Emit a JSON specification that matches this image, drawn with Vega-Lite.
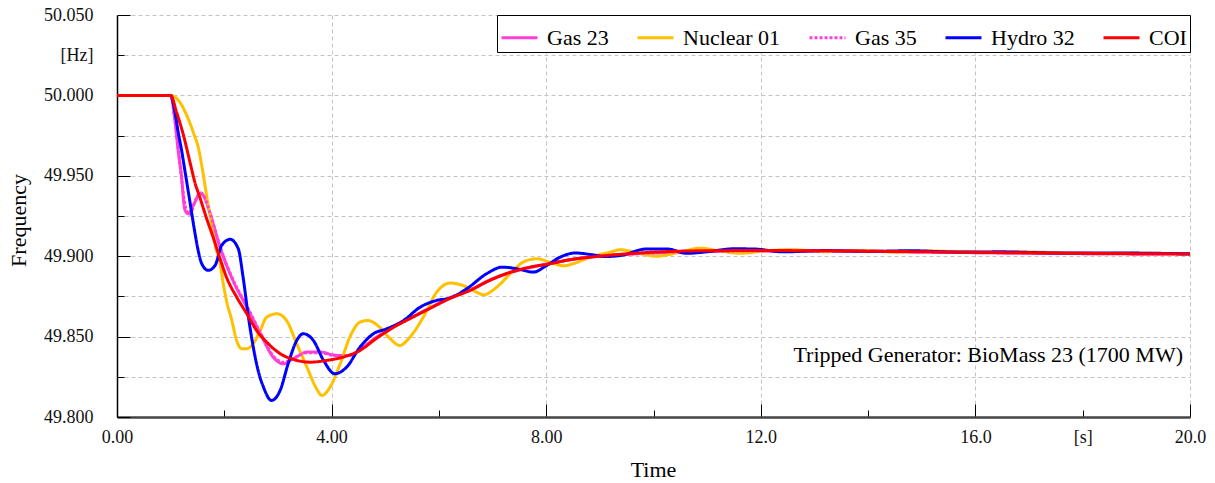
{
  "$schema": "https://vega.github.io/schema/vega-lite/v6.json",
  "width": 1073,
  "height": 402,
  "autosize": "none",
  "padding": {"left": 117, "top": 15, "right": 25, "bottom": 66},
  "background": "white",
  "config": {
    "font": "Liberation Serif",
    "view": {"stroke": null},
    "text": {"font": "Liberation Serif"}
  },
  "encoding": {
    "x": {
      "field": "t", "type": "quantitative",
      "scale": {"domain": [0, 20], "nice": false, "zero": false},
      "axis": {
        "title": "Time", "titleFont": "Liberation Serif", "titleFontSize": 22, "titleFontWeight": "normal", "titleColor": "#000",
        "titleX": 536, "titleY": 59, "titleAlign": "center", "titleBaseline": "alphabetic",
        "values": [0, 2, 4, 6, 8, 10, 12, 14, 16, 18, 20],
        "labelExpr": "datum.value == 18 ? '[s]' : (datum.value % 4 == 0 ? (datum.value < 10 ? format(datum.value, '.2f') : format(datum.value, '.1f')) : '')",
        "labelFont": "Liberation Serif", "labelFontSize": 18, "labelColor": "#111",
        "labelBaseline": "middle",
        "labelPadding": {"condition": {"test": "datum.value % 4 == 0", "value": 33}, "value": 27},
        "labelFlush": false, "labelOverlap": false, "labelBound": false,
        "tickSize": {"condition": {"test": "datum.value % 4 == 0", "value": -13}, "value": -7},
        "tickColor": "#000", "tickWidth": 1,
        "domainColor": "#444", "domainWidth": 2.5,
        "grid": true, "gridColor": "#c4c4c4", "gridDash": [4, 3], "gridWidth": 1,
        "gridOpacity": {"condition": {"test": "datum.value % 4 == 0 && datum.value > 0", "value": 1}, "value": 0}
      }
    },
    "y": {
      "field": "f", "type": "quantitative",
      "scale": {"domain": [49.8, 50.05], "nice": false, "zero": false},
      "axis": {
        "title": "Frequency", "titleFont": "Liberation Serif", "titleFontSize": 22, "titleFontWeight": "normal", "titleColor": "#000",
        "titleX": -99, "titleY": 205, "titleAngle": -90, "titleAlign": "center", "titleBaseline": "middle",
        "values": [49.8, 49.825, 49.85, 49.875, 49.9, 49.925, 49.95, 49.975, 50, 50.025, 50.05],
        "labelExpr": "abs(datum.value - 50.025) < 0.001 ? '[Hz]' : (abs(round(datum.value * 20) - datum.value * 20) < 0.01 ? format(datum.value, '.3f') : '')",
        "labelFont": "Liberation Serif", "labelFontSize": 18, "labelColor": "#111",
        "labelPadding": {"condition": {"test": "abs(round(datum.value * 20) - datum.value * 20) < 0.01", "value": 37}, "value": 31},
        "labelFlush": false, "labelOverlap": false, "labelBound": false,
        "tickSize": {"condition": {"test": "abs(round(datum.value * 20) - datum.value * 20) < 0.01", "value": -13}, "value": -7},
        "tickColor": "#000", "tickWidth": 1,
        "domainColor": "#000", "domainWidth": 1.5,
        "grid": true, "gridColor": "#c4c4c4", "gridDash": [4, 3], "gridWidth": 1
      }
    }
  },
  "layer": [
    {
      "data": {"values": [
        {"s": "Gas 23", "t": 0, "f": 50.0},
        {"s": "Gas 23", "t": 1.0, "f": 50.0},
        {"s": "Gas 23", "t": 1.08, "f": 49.9845},
        {"s": "Gas 23", "t": 1.14, "f": 49.9658},
        {"s": "Gas 23", "t": 1.21, "f": 49.9471},
        {"s": "Gas 23", "t": 1.24, "f": 49.9347},
        {"s": "Gas 23", "t": 1.27, "f": 49.9285},
        {"s": "Gas 23", "t": 1.33, "f": 49.9264},
        {"s": "Gas 23", "t": 1.42, "f": 49.9316},
        {"s": "Gas 23", "t": 1.55, "f": 49.9389},
        {"s": "Gas 23", "t": 1.61, "f": 49.9378},
        {"s": "Gas 23", "t": 1.73, "f": 49.9272},
        {"s": "Gas 23", "t": 1.92, "f": 49.9057},
        {"s": "Gas 23", "t": 2.16, "f": 49.885},
        {"s": "Gas 23", "t": 2.42, "f": 49.8683},
        {"s": "Gas 23", "t": 2.67, "f": 49.852},
        {"s": "Gas 23", "t": 2.91, "f": 49.8373},
        {"s": "Gas 23", "t": 3.10, "f": 49.8331},
        {"s": "Gas 23", "t": 3.29, "f": 49.8363},
        {"s": "Gas 23", "t": 3.54, "f": 49.8404},
        {"s": "Gas 23", "t": 3.78, "f": 49.8404},
        {"s": "Gas 23", "t": 4.10, "f": 49.8383},
        {"s": "Gas 23", "t": 4.34, "f": 49.8383},
        {"s": "Gas 23", "t": 4.59, "f": 49.8435},
        {"s": "Gas 23", "t": 4.84, "f": 49.8497},
        {"s": "Gas 23", "t": 5.09, "f": 49.8547},
        {"s": "Gas 23", "t": 5.30, "f": 49.8587},
        {"s": "Gas 23", "t": 5.46, "f": 49.8614},
        {"s": "Gas 23", "t": 5.83, "f": 49.8678},
        {"s": "Gas 23", "t": 6.21, "f": 49.8742},
        {"s": "Gas 23", "t": 6.58, "f": 49.879},
        {"s": "Gas 23", "t": 6.95, "f": 49.8852},
        {"s": "Gas 23", "t": 7.33, "f": 49.8898},
        {"s": "Gas 23", "t": 7.70, "f": 49.893},
        {"s": "Gas 23", "t": 8.07, "f": 49.8955},
        {"s": "Gas 23", "t": 8.44, "f": 49.8978},
        {"s": "Gas 23", "t": 8.82, "f": 49.8995},
        {"s": "Gas 23", "t": 9.5, "f": 49.9012},
        {"s": "Gas 23", "t": 10.0, "f": 49.902},
        {"s": "Gas 23", "t": 11.0, "f": 49.903},
        {"s": "Gas 23", "t": 12.0, "f": 49.9033},
        {"s": "Gas 23", "t": 14.0, "f": 49.903},
        {"s": "Gas 23", "t": 16.0, "f": 49.9022},
        {"s": "Gas 23", "t": 18.0, "f": 49.9016},
        {"s": "Gas 23", "t": 20.0, "f": 49.9013},

        {"s": "Nuclear 01", "t": 0, "f": 50.0},
        {"s": "Nuclear 01", "t": 1.0, "f": 50.0},
        {"s": "Nuclear 01", "t": 1.17, "f": 49.9958},
        {"s": "Nuclear 01", "t": 1.30, "f": 49.9876},
        {"s": "Nuclear 01", "t": 1.42, "f": 49.9772},
        {"s": "Nuclear 01", "t": 1.52, "f": 49.9669},
        {"s": "Nuclear 01", "t": 1.58, "f": 49.9565},
        {"s": "Nuclear 01", "t": 1.64, "f": 49.944},
        {"s": "Nuclear 01", "t": 1.70, "f": 49.9316},
        {"s": "Nuclear 01", "t": 1.77, "f": 49.9192},
        {"s": "Nuclear 01", "t": 1.83, "f": 49.9067},
        {"s": "Nuclear 01", "t": 1.91, "f": 49.8974},
        {"s": "Nuclear 01", "t": 1.98, "f": 49.8829},
        {"s": "Nuclear 01", "t": 2.04, "f": 49.8725},
        {"s": "Nuclear 01", "t": 2.14, "f": 49.8601},
        {"s": "Nuclear 01", "t": 2.23, "f": 49.8476},
        {"s": "Nuclear 01", "t": 2.32, "f": 49.8425},
        {"s": "Nuclear 01", "t": 2.42, "f": 49.8425},
        {"s": "Nuclear 01", "t": 2.54, "f": 49.8456},
        {"s": "Nuclear 01", "t": 2.67, "f": 49.8539},
        {"s": "Nuclear 01", "t": 2.79, "f": 49.8621},
        {"s": "Nuclear 01", "t": 2.98, "f": 49.8642},
        {"s": "Nuclear 01", "t": 3.16, "f": 49.86},
        {"s": "Nuclear 01", "t": 3.35, "f": 49.8456},
        {"s": "Nuclear 01", "t": 3.54, "f": 49.831},
        {"s": "Nuclear 01", "t": 3.72, "f": 49.8176},
        {"s": "Nuclear 01", "t": 3.82, "f": 49.8134},
        {"s": "Nuclear 01", "t": 3.97, "f": 49.8186},
        {"s": "Nuclear 01", "t": 4.16, "f": 49.8331},
        {"s": "Nuclear 01", "t": 4.34, "f": 49.8497},
        {"s": "Nuclear 01", "t": 4.53, "f": 49.859},
        {"s": "Nuclear 01", "t": 4.68, "f": 49.86},
        {"s": "Nuclear 01", "t": 4.90, "f": 49.8557},
        {"s": "Nuclear 01", "t": 5.09, "f": 49.8487},
        {"s": "Nuclear 01", "t": 5.27, "f": 49.8445},
        {"s": "Nuclear 01", "t": 5.46, "f": 49.8497},
        {"s": "Nuclear 01", "t": 5.71, "f": 49.8621},
        {"s": "Nuclear 01", "t": 5.96, "f": 49.8777},
        {"s": "Nuclear 01", "t": 6.21, "f": 49.8833},
        {"s": "Nuclear 01", "t": 6.45, "f": 49.8818},
        {"s": "Nuclear 01", "t": 6.70, "f": 49.8777},
        {"s": "Nuclear 01", "t": 6.83, "f": 49.876},
        {"s": "Nuclear 01", "t": 7.08, "f": 49.8808},
        {"s": "Nuclear 01", "t": 7.33, "f": 49.8891},
        {"s": "Nuclear 01", "t": 7.57, "f": 49.8963},
        {"s": "Nuclear 01", "t": 7.82, "f": 49.8984},
        {"s": "Nuclear 01", "t": 8.07, "f": 49.8963},
        {"s": "Nuclear 01", "t": 8.32, "f": 49.894},
        {"s": "Nuclear 01", "t": 8.50, "f": 49.8953},
        {"s": "Nuclear 01", "t": 8.82, "f": 49.8994},
        {"s": "Nuclear 01", "t": 9.19, "f": 49.9025},
        {"s": "Nuclear 01", "t": 9.38, "f": 49.904},
        {"s": "Nuclear 01", "t": 9.75, "f": 49.9016},
        {"s": "Nuclear 01", "t": 10.06, "f": 49.9},
        {"s": "Nuclear 01", "t": 10.49, "f": 49.9025},
        {"s": "Nuclear 01", "t": 10.87, "f": 49.905},
        {"s": "Nuclear 01", "t": 11.18, "f": 49.9036},
        {"s": "Nuclear 01", "t": 11.61, "f": 49.9018},
        {"s": "Nuclear 01", "t": 12.11, "f": 49.9034},
        {"s": "Nuclear 01", "t": 12.6, "f": 49.904},
        {"s": "Nuclear 01", "t": 13.2, "f": 49.9028},
        {"s": "Nuclear 01", "t": 13.8, "f": 49.9036},
        {"s": "Nuclear 01", "t": 14.5, "f": 49.9026},
        {"s": "Nuclear 01", "t": 15.2, "f": 49.9032},
        {"s": "Nuclear 01", "t": 16.0, "f": 49.9024},
        {"s": "Nuclear 01", "t": 17.0, "f": 49.9026},
        {"s": "Nuclear 01", "t": 18.0, "f": 49.9017},
        {"s": "Nuclear 01", "t": 19.0, "f": 49.9018},
        {"s": "Nuclear 01", "t": 20.0, "f": 49.9014},

        {"s": "Gas 35", "t": 0, "f": 50.0},
        {"s": "Gas 35", "t": 1.0, "f": 50.0},
        {"s": "Gas 35", "t": 1.07, "f": 49.987},
        {"s": "Gas 35", "t": 1.13, "f": 49.97},
        {"s": "Gas 35", "t": 1.19, "f": 49.952},
        {"s": "Gas 35", "t": 1.24, "f": 49.938},
        {"s": "Gas 35", "t": 1.30, "f": 49.928},
        {"s": "Gas 35", "t": 1.36, "f": 49.926},
        {"s": "Gas 35", "t": 1.45, "f": 49.9335},
        {"s": "Gas 35", "t": 1.56, "f": 49.9395},
        {"s": "Gas 35", "t": 1.64, "f": 49.936},
        {"s": "Gas 35", "t": 1.75, "f": 49.925},
        {"s": "Gas 35", "t": 1.92, "f": 49.906},
        {"s": "Gas 35", "t": 2.16, "f": 49.8855},
        {"s": "Gas 35", "t": 2.42, "f": 49.869},
        {"s": "Gas 35", "t": 2.67, "f": 49.8525},
        {"s": "Gas 35", "t": 2.91, "f": 49.838},
        {"s": "Gas 35", "t": 3.10, "f": 49.834},
        {"s": "Gas 35", "t": 3.29, "f": 49.8365},
        {"s": "Gas 35", "t": 3.54, "f": 49.84},
        {"s": "Gas 35", "t": 3.78, "f": 49.84},
        {"s": "Gas 35", "t": 4.10, "f": 49.838},
        {"s": "Gas 35", "t": 4.34, "f": 49.8385},
        {"s": "Gas 35", "t": 4.59, "f": 49.8435},
        {"s": "Gas 35", "t": 4.84, "f": 49.8495},
        {"s": "Gas 35", "t": 5.09, "f": 49.8546},
        {"s": "Gas 35", "t": 5.30, "f": 49.8586},
        {"s": "Gas 35", "t": 5.46, "f": 49.8613},
        {"s": "Gas 35", "t": 5.83, "f": 49.8677},
        {"s": "Gas 35", "t": 6.21, "f": 49.8741},
        {"s": "Gas 35", "t": 6.58, "f": 49.8789},
        {"s": "Gas 35", "t": 6.95, "f": 49.8851},
        {"s": "Gas 35", "t": 7.33, "f": 49.8898},
        {"s": "Gas 35", "t": 7.70, "f": 49.893},
        {"s": "Gas 35", "t": 8.07, "f": 49.8955},
        {"s": "Gas 35", "t": 8.44, "f": 49.8978},
        {"s": "Gas 35", "t": 8.82, "f": 49.8995},
        {"s": "Gas 35", "t": 9.5, "f": 49.9012},
        {"s": "Gas 35", "t": 10.0, "f": 49.902},
        {"s": "Gas 35", "t": 11.0, "f": 49.903},
        {"s": "Gas 35", "t": 12.0, "f": 49.9032},
        {"s": "Gas 35", "t": 14.0, "f": 49.903},
        {"s": "Gas 35", "t": 16.0, "f": 49.9022},
        {"s": "Gas 35", "t": 18.0, "f": 49.9016},
        {"s": "Gas 35", "t": 20.0, "f": 49.9013},

        {"s": "Hydro 32", "t": 0, "f": 50.0},
        {"s": "Hydro 32", "t": 1.0, "f": 50.0},
        {"s": "Hydro 32", "t": 1.08, "f": 49.9896},
        {"s": "Hydro 32", "t": 1.14, "f": 49.9772},
        {"s": "Hydro 32", "t": 1.21, "f": 49.9647},
        {"s": "Hydro 32", "t": 1.27, "f": 49.9523},
        {"s": "Hydro 32", "t": 1.33, "f": 49.9399},
        {"s": "Hydro 32", "t": 1.39, "f": 49.9274},
        {"s": "Hydro 32", "t": 1.45, "f": 49.915},
        {"s": "Hydro 32", "t": 1.52, "f": 49.9025},
        {"s": "Hydro 32", "t": 1.58, "f": 49.8953},
        {"s": "Hydro 32", "t": 1.70, "f": 49.8912},
        {"s": "Hydro 32", "t": 1.83, "f": 49.8943},
        {"s": "Hydro 32", "t": 1.95, "f": 49.9067},
        {"s": "Hydro 32", "t": 2.11, "f": 49.9105},
        {"s": "Hydro 32", "t": 2.26, "f": 49.9047},
        {"s": "Hydro 32", "t": 2.35, "f": 49.887},
        {"s": "Hydro 32", "t": 2.45, "f": 49.8621},
        {"s": "Hydro 32", "t": 2.54, "f": 49.8435},
        {"s": "Hydro 32", "t": 2.63, "f": 49.829},
        {"s": "Hydro 32", "t": 2.73, "f": 49.8186},
        {"s": "Hydro 32", "t": 2.88, "f": 49.8103},
        {"s": "Hydro 32", "t": 3.04, "f": 49.8165},
        {"s": "Hydro 32", "t": 3.19, "f": 49.8331},
        {"s": "Hydro 32", "t": 3.35, "f": 49.8476},
        {"s": "Hydro 32", "t": 3.47, "f": 49.8518},
        {"s": "Hydro 32", "t": 3.66, "f": 49.8476},
        {"s": "Hydro 32", "t": 3.85, "f": 49.8352},
        {"s": "Hydro 32", "t": 4.06, "f": 49.8269},
        {"s": "Hydro 32", "t": 4.28, "f": 49.831},
        {"s": "Hydro 32", "t": 4.53, "f": 49.8435},
        {"s": "Hydro 32", "t": 4.78, "f": 49.8518},
        {"s": "Hydro 32", "t": 5.03, "f": 49.8549},
        {"s": "Hydro 32", "t": 5.34, "f": 49.86},
        {"s": "Hydro 32", "t": 5.65, "f": 49.8683},
        {"s": "Hydro 32", "t": 5.96, "f": 49.8725},
        {"s": "Hydro 32", "t": 6.21, "f": 49.874},
        {"s": "Hydro 32", "t": 6.52, "f": 49.8798},
        {"s": "Hydro 32", "t": 6.89, "f": 49.8891},
        {"s": "Hydro 32", "t": 7.18, "f": 49.8932},
        {"s": "Hydro 32", "t": 7.45, "f": 49.8922},
        {"s": "Hydro 32", "t": 7.76, "f": 49.8901},
        {"s": "Hydro 32", "t": 8.01, "f": 49.8943},
        {"s": "Hydro 32", "t": 8.26, "f": 49.8994},
        {"s": "Hydro 32", "t": 8.54, "f": 49.902},
        {"s": "Hydro 32", "t": 8.82, "f": 49.9011},
        {"s": "Hydro 32", "t": 9.10, "f": 49.8998},
        {"s": "Hydro 32", "t": 9.38, "f": 49.9004},
        {"s": "Hydro 32", "t": 9.87, "f": 49.9045},
        {"s": "Hydro 32", "t": 10.25, "f": 49.9045},
        {"s": "Hydro 32", "t": 10.62, "f": 49.9018},
        {"s": "Hydro 32", "t": 10.99, "f": 49.9027},
        {"s": "Hydro 32", "t": 11.49, "f": 49.9046},
        {"s": "Hydro 32", "t": 11.86, "f": 49.9045},
        {"s": "Hydro 32", "t": 12.42, "f": 49.9027},
        {"s": "Hydro 32", "t": 13.2, "f": 49.9035},
        {"s": "Hydro 32", "t": 14.0, "f": 49.903},
        {"s": "Hydro 32", "t": 14.8, "f": 49.9034},
        {"s": "Hydro 32", "t": 15.6, "f": 49.9026},
        {"s": "Hydro 32", "t": 16.5, "f": 49.9027},
        {"s": "Hydro 32", "t": 17.5, "f": 49.902},
        {"s": "Hydro 32", "t": 18.5, "f": 49.902},
        {"s": "Hydro 32", "t": 20.0, "f": 49.9015},

        {"s": "COI", "t": 0, "f": 50.0},
        {"s": "COI", "t": 1.0, "f": 50.0},
        {"s": "COI", "t": 1.11, "f": 49.9896},
        {"s": "COI", "t": 1.24, "f": 49.9751},
        {"s": "COI", "t": 1.36, "f": 49.9585},
        {"s": "COI", "t": 1.45, "f": 49.9461},
        {"s": "COI", "t": 1.55, "f": 49.936},
        {"s": "COI", "t": 1.67, "f": 49.9235},
        {"s": "COI", "t": 1.80, "f": 49.911},
        {"s": "COI", "t": 1.92, "f": 49.8986},
        {"s": "COI", "t": 2.04, "f": 49.887},
        {"s": "COI", "t": 2.23, "f": 49.8746},
        {"s": "COI", "t": 2.42, "f": 49.8642},
        {"s": "COI", "t": 2.60, "f": 49.8539},
        {"s": "COI", "t": 2.79, "f": 49.8466},
        {"s": "COI", "t": 3.04, "f": 49.8394},
        {"s": "COI", "t": 3.29, "f": 49.8358},
        {"s": "COI", "t": 3.60, "f": 49.8341},
        {"s": "COI", "t": 3.91, "f": 49.8352},
        {"s": "COI", "t": 4.22, "f": 49.8373},
        {"s": "COI", "t": 4.53, "f": 49.8414},
        {"s": "COI", "t": 4.84, "f": 49.849},
        {"s": "COI", "t": 5.09, "f": 49.8545},
        {"s": "COI", "t": 5.30, "f": 49.8585},
        {"s": "COI", "t": 5.46, "f": 49.8612},
        {"s": "COI", "t": 5.83, "f": 49.8675},
        {"s": "COI", "t": 6.21, "f": 49.8738},
        {"s": "COI", "t": 6.58, "f": 49.8787},
        {"s": "COI", "t": 6.95, "f": 49.885},
        {"s": "COI", "t": 7.33, "f": 49.89},
        {"s": "COI", "t": 7.70, "f": 49.8932},
        {"s": "COI", "t": 8.07, "f": 49.8953},
        {"s": "COI", "t": 8.44, "f": 49.8978},
        {"s": "COI", "t": 8.82, "f": 49.8994},
        {"s": "COI", "t": 9.4, "f": 49.9012},
        {"s": "COI", "t": 10.0, "f": 49.9025},
        {"s": "COI", "t": 11.0, "f": 49.9034},
        {"s": "COI", "t": 12.0, "f": 49.9035},
        {"s": "COI", "t": 13.0, "f": 49.9034},
        {"s": "COI", "t": 14.0, "f": 49.9031},
        {"s": "COI", "t": 16.0, "f": 49.9024},
        {"s": "COI", "t": 18.0, "f": 49.9018},
        {"s": "COI", "t": 20.0, "f": 49.9014}
      ]},
      "mark": {"type": "line", "interpolate": "monotone", "clip": true},
      "encoding": {
        "color": {
          "field": "s", "type": "nominal",
          "scale": {"domain": ["Gas 23", "Nuclear 01", "Gas 35", "Hydro 32", "COI"], "range": ["#FF3FD6", "#FFC000", "#FF3FD6", "#0000FF", "#FF0000"]},
          "legend": {
            "title": null, "orient": "top-right", "offset": 0, "direction": "horizontal",
            "symbolType": "stroke", "symbolSize": 1296, "symbolStrokeWidth": 3,
            "labelFont": "Liberation Serif", "labelFontSize": 22, "labelColor": "#000", "labelOffset": 8, "labelLimit": 0,
            "columnPadding": 22, "padding": 3, "strokeColor": "#000", "fillColor": "#fff"
          }
        },
        "strokeDash": {
          "field": "s", "type": "nominal",
          "scale": {"domain": ["Gas 23", "Nuclear 01", "Gas 35", "Hydro 32", "COI"], "range": [[1, 0], [1, 0], [3, 2], [1, 0], [1, 0]]},
          "legend": {
            "title": null, "orient": "top-right", "offset": 0, "direction": "horizontal",
            "symbolType": "stroke", "symbolSize": 1296, "symbolStrokeWidth": 3,
            "labelFont": "Liberation Serif", "labelFontSize": 22, "labelColor": "#000", "labelOffset": 8, "labelLimit": 0,
            "columnPadding": 22, "padding": 3, "strokeColor": "#000", "fillColor": "#fff"
          }
        },
        "strokeWidth": {
          "field": "s", "type": "ordinal",
          "scale": {"domain": ["Gas 23", "Nuclear 01", "Gas 35", "Hydro 32", "COI"], "range": [3, 3, 3, 3, 4.5]},
          "legend": null
        }
      }
    },
    {
      "data": {"values": [{"t": 19.87, "f": 49.834, "label": "Tripped Generator: BioMass 23 (1700 MW)"}]},
      "mark": {"type": "text", "align": "right", "baseline": "alphabetic", "font": "Liberation Serif", "fontSize": 22, "color": "#000"},
      "encoding": {"text": {"field": "label", "type": "nominal"}}
    }
  ]
}
